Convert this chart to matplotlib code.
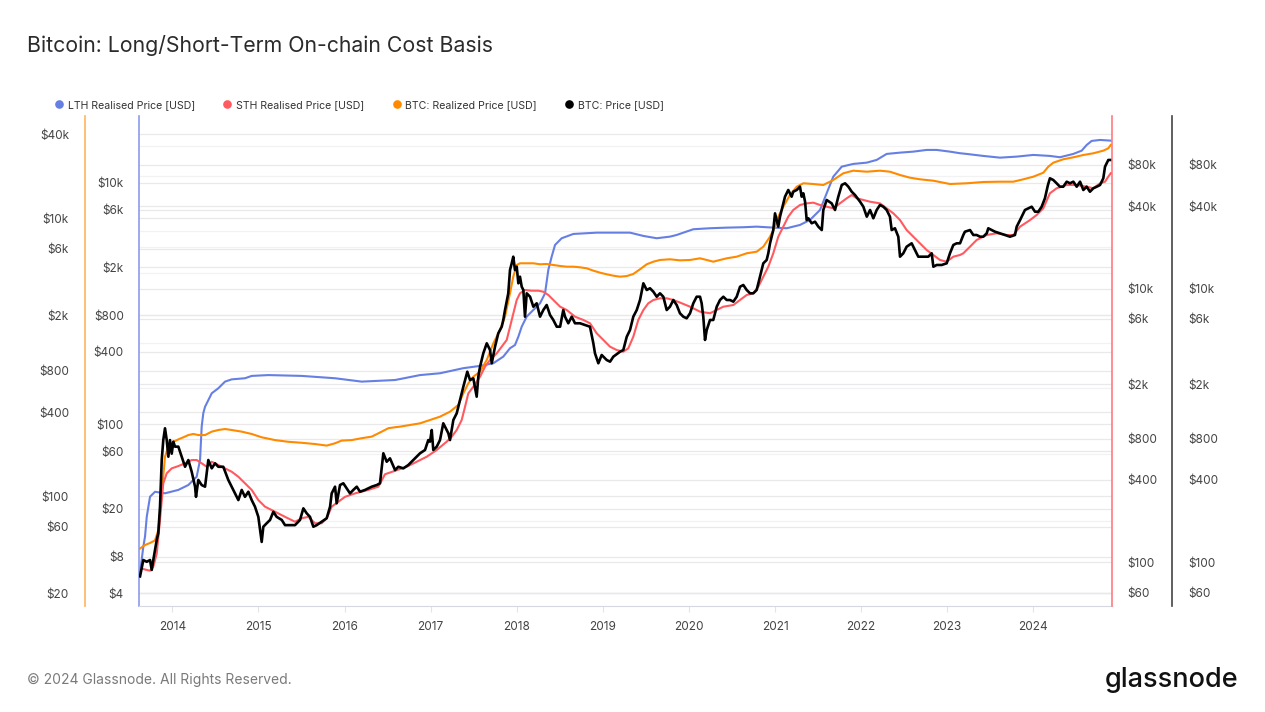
import matplotlib
matplotlib.use("Agg")
import matplotlib.pyplot as plt
from matplotlib.lines import Line2D
from matplotlib.ticker import FixedLocator, FixedFormatter, NullLocator

plt.rcParams['font.family'] = ['Inter', 'DejaVu Sans']

# time axis is decimal years
x_start, x_end = 2013.613, 2024.914
years = list(range(2014, 2025))

# LTH realised price [USD] (inner left axis)
lth_t = [2013.625, 2013.663, 2013.683, 2013.703, 2013.741, 2013.799, 2013.915, 2014.070,
         2014.186, 2014.283, 2014.322, 2014.341, 2014.360, 2014.380, 2014.458, 2014.534,
         2014.612, 2014.690, 2014.844, 2014.922, 2015.115, 2015.503, 2015.890, 2016.199,
         2016.587, 2016.877, 2017.109, 2017.380, 2017.574, 2017.729, 2017.844, 2017.922,
         2017.980, 2018.019, 2018.058, 2018.116, 2018.193, 2018.271, 2018.329, 2018.367,
         2018.406, 2018.445, 2018.522, 2018.658, 2018.930, 2019.200, 2019.316, 2019.471,
         2019.626, 2019.780, 2019.858, 2020.051, 2020.245, 2020.439, 2020.632, 2020.787,
         2020.980, 2021.136, 2021.290, 2021.406, 2021.523, 2021.600, 2021.677, 2021.775,
         2021.909, 2022.066, 2022.181, 2022.297, 2022.452, 2022.606, 2022.761, 2022.878,
         2023.032, 2023.149, 2023.226, 2023.419, 2023.613, 2023.807, 2024.000, 2024.193,
         2024.309, 2024.465, 2024.562, 2024.620, 2024.678, 2024.775, 2024.899]
lth_v = [5.9, 9.7, 11.8, 17.2, 25.2, 27.7, 26.9, 28.7,
         31.5, 36.9, 50.8, 95.8, 124, 140, 181, 199,
         226, 236, 241, 252, 256, 252, 241, 226,
         233, 256, 265, 292, 305, 321, 364, 427,
         454, 532, 644, 780, 886, 1006, 1217, 1899,
         2446, 3057, 3474, 3770, 3865, 3865, 3865, 3631,
         3474, 3582, 3699, 4124, 4204, 4253, 4285, 4334,
         4253, 4204, 4476, 4923, 5956, 8191, 11240, 13600,
         14320, 14680, 15460, 17330, 17760, 18100, 18700, 18700,
         18100, 17560, 17330, 16680, 16140, 16460, 17000, 16680,
         16270, 17330, 18450, 20560, 22200, 22620, 22320]

# STH realised price [USD] (inner right axis)
sth_t = [2013.645, 2013.703, 2013.741, 2013.779, 2013.819, 2013.857, 2013.895, 2013.935,
         2013.993, 2014.070, 2014.148, 2014.225, 2014.283, 2014.341, 2014.400, 2014.458,
         2014.534, 2014.612, 2014.690, 2014.767, 2014.844, 2014.922, 2014.999, 2015.077,
         2015.193, 2015.309, 2015.425, 2015.503, 2015.580, 2015.657, 2015.735, 2015.793,
         2015.851, 2015.928, 2016.006, 2016.122, 2016.276, 2016.393, 2016.470, 2016.610,
         2016.722, 2016.838, 2016.955, 2017.071, 2017.187, 2017.245, 2017.303, 2017.361,
         2017.400, 2017.438, 2017.496, 2017.574, 2017.632, 2017.690, 2017.768, 2017.826,
         2017.884, 2017.942, 2018.000, 2018.038, 2018.096, 2018.174, 2018.251, 2018.309,
         2018.367, 2018.425, 2018.504, 2018.581, 2018.677, 2018.774, 2018.851, 2018.929,
         2019.006, 2019.084, 2019.161, 2019.238, 2019.296, 2019.354, 2019.412, 2019.471,
         2019.528, 2019.587, 2019.664, 2019.742, 2019.819, 2019.896, 2020.013, 2020.129,
         2020.245, 2020.323, 2020.400, 2020.516, 2020.594, 2020.671, 2020.748, 2020.806,
         2020.864, 2020.922, 2020.980, 2021.038, 2021.096, 2021.154, 2021.212, 2021.290,
         2021.368, 2021.445, 2021.523, 2021.600, 2021.677, 2021.755, 2021.833, 2021.891,
         2021.949, 2022.026, 2022.104, 2022.219, 2022.297, 2022.374, 2022.452, 2022.529,
         2022.606, 2022.684, 2022.761, 2022.839, 2022.916, 2022.994, 2023.071, 2023.149,
         2023.187, 2023.265, 2023.342, 2023.459, 2023.575, 2023.691, 2023.768, 2023.846,
         2023.962, 2024.039, 2024.116, 2024.193, 2024.271, 2024.388, 2024.504, 2024.620,
         2024.697, 2024.775, 2024.833, 2024.871, 2024.899]
sth_v = [90, 88, 87, 93, 116, 204, 378, 447,
         486, 505, 529, 559, 559, 529, 499, 543,
         514, 486, 459, 422, 378, 338, 285, 255,
         234, 215, 198, 210, 215, 193, 193, 210,
         255, 277, 301, 319, 338, 357, 440, 472,
         499, 543, 591, 662, 761, 827, 926, 1096,
         1370, 1716, 1918, 2269, 2686, 3006, 3364, 3759,
         4211, 5892, 8244, 9228, 9756, 9642, 9642, 9480,
         8970, 8244, 7368, 6966, 6228, 5892, 5574, 4710,
         4211, 3759, 3556, 3456, 3659, 4446, 5892, 6966,
         7800, 8244, 8484, 8484, 8244, 7900, 7368, 6774,
         6594, 6966, 7368, 7578, 8244, 8970, 9228, 10310,
         12200, 14430, 18080, 23910, 28300, 33470, 37460, 40740,
         41880, 42380, 40740, 39590, 38530, 41880, 45620, 48210,
         45620, 44330, 43070, 41880, 38530, 35430, 31620, 26740,
         23910, 21390, 19120, 17580, 16160, 15700, 17080, 17580,
         18080, 20210, 22620, 24600, 25320, 24600, 24600, 28300,
         31620, 34440, 38530, 49610, 53970, 57040, 57040, 55430,
         53970, 58680, 60300, 65600, 69450]

# BTC realized price [USD] (outer left axis)
rp_t = [2013.625, 2013.683, 2013.741, 2013.799, 2013.837, 2013.877, 2013.915, 2013.954,
        2014.012, 2014.070, 2014.128, 2014.186, 2014.244, 2014.302, 2014.380, 2014.458,
        2014.534, 2014.612, 2014.690, 2014.806, 2014.922, 2015.038, 2015.193, 2015.347,
        2015.503, 2015.657, 2015.793, 2015.890, 2015.967, 2016.083, 2016.199, 2016.316,
        2016.432, 2016.509, 2016.587, 2016.645, 2016.761, 2016.877, 2016.993, 2017.109,
        2017.225, 2017.322, 2017.380, 2017.438, 2017.496, 2017.574, 2017.652, 2017.729,
        2017.806, 2017.864, 2017.922, 2017.960, 2018.000, 2018.038, 2018.116, 2018.193,
        2018.271, 2018.348, 2018.425, 2018.504, 2018.581, 2018.658, 2018.735, 2018.813,
        2018.890, 2018.967, 2019.045, 2019.122, 2019.200, 2019.278, 2019.354, 2019.432,
        2019.510, 2019.587, 2019.664, 2019.780, 2019.896, 2020.013, 2020.129, 2020.207,
        2020.283, 2020.361, 2020.439, 2020.555, 2020.671, 2020.787, 2020.864, 2020.942,
        2021.000, 2021.038, 2021.096, 2021.174, 2021.252, 2021.329, 2021.445, 2021.561,
        2021.677, 2021.793, 2021.909, 2022.066, 2022.219, 2022.335, 2022.452, 2022.568,
        2022.684, 2022.839, 2022.955, 2023.032, 2023.226, 2023.419, 2023.613, 2023.768,
        2023.884, 2024.000, 2024.116, 2024.174, 2024.232, 2024.348, 2024.465, 2024.581,
        2024.697, 2024.813, 2024.871, 2024.899]
rp_v = [42, 44.5, 46, 48, 57, 105, 192, 227,
        246, 256, 265, 275, 280, 275, 275, 291,
        299, 304, 299, 291, 280, 265, 253, 246,
        242, 237, 231, 240, 251, 253, 261, 268,
        291, 308, 313, 316, 325, 334, 353, 373,
        405, 453, 549, 648, 723, 786, 954, 1258,
        1568, 1954, 2878, 3792, 4602, 4734, 4734, 4734,
        4656, 4680, 4602, 4526, 4474, 4474, 4428, 4356,
        4188, 4052, 3944, 3854, 3792, 3830, 3964, 4286,
        4656, 4860, 5000, 5058, 4970, 5000, 5140, 5000,
        4860, 5000, 5140, 5280, 5586, 5736, 6230, 7356,
        8680, 10240, 12090, 14670, 16840, 17810, 17600, 17310,
        18810, 21020, 21950, 21580, 21950, 21580, 20430, 19540,
        19030, 18590, 17990, 17600, 17810, 18200, 18290, 18290,
        19030, 19870, 21220, 23450, 25050, 26510, 27400, 28460,
        29280, 30580, 31800, 33600]

# BTC price [USD] (outer right axis)
px_t = [2013.625, 2013.663, 2013.703, 2013.741, 2013.761, 2013.779, 2013.799, 2013.819,
        2013.837, 2013.857, 2013.877, 2013.895, 2013.915, 2013.935, 2013.954, 2013.973,
        2013.993, 2014.012, 2014.031, 2014.070, 2014.109, 2014.148, 2014.186, 2014.225,
        2014.264, 2014.275, 2014.302, 2014.341, 2014.380, 2014.418, 2014.458, 2014.496,
        2014.534, 2014.592, 2014.650, 2014.728, 2014.767, 2014.806, 2014.844, 2014.883,
        2014.922, 2014.960, 2014.999, 2015.038, 2015.057, 2015.096, 2015.135, 2015.173,
        2015.212, 2015.271, 2015.309, 2015.425, 2015.483, 2015.522, 2015.561, 2015.599,
        2015.638, 2015.677, 2015.735, 2015.793, 2015.832, 2015.851, 2015.890, 2015.909,
        2015.948, 2015.986, 2016.026, 2016.064, 2016.102, 2016.142, 2016.180, 2016.238,
        2016.316, 2016.374, 2016.412, 2016.451, 2016.490, 2016.528, 2016.587, 2016.625,
        2016.683, 2016.741, 2016.799, 2016.838, 2016.877, 2016.935, 2016.973, 2016.993,
        2017.013, 2017.031, 2017.071, 2017.109, 2017.147, 2017.187, 2017.206, 2017.225,
        2017.264, 2017.303, 2017.341, 2017.380, 2017.426, 2017.458, 2017.496, 2017.535,
        2017.554, 2017.574, 2017.612, 2017.652, 2017.690, 2017.710, 2017.748, 2017.786,
        2017.826, 2017.844, 2017.864, 2017.902, 2017.922, 2017.942, 2017.960, 2017.980,
        2018.000, 2018.019, 2018.038, 2018.058, 2018.077, 2018.096, 2018.116, 2018.155,
        2018.193, 2018.232, 2018.271, 2018.309, 2018.348, 2018.387, 2018.425, 2018.465,
        2018.504, 2018.541, 2018.561, 2018.599, 2018.639, 2018.677, 2018.735, 2018.793,
        2018.851, 2018.890, 2018.909, 2018.948, 2018.987, 2019.045, 2019.084, 2019.122,
        2019.200, 2019.238, 2019.278, 2019.316, 2019.354, 2019.394, 2019.432, 2019.471,
        2019.510, 2019.548, 2019.587, 2019.626, 2019.664, 2019.703, 2019.742, 2019.780,
        2019.819, 2019.858, 2019.896, 2019.935, 2019.974, 2020.013, 2020.051, 2020.090,
        2020.129, 2020.148, 2020.167, 2020.187, 2020.207, 2020.245, 2020.283, 2020.323,
        2020.361, 2020.400, 2020.439, 2020.477, 2020.516, 2020.555, 2020.594, 2020.632,
        2020.671, 2020.710, 2020.748, 2020.787, 2020.826, 2020.864, 2020.903, 2020.922,
        2020.942, 2020.980, 2021.000, 2021.019, 2021.038, 2021.058, 2021.096, 2021.116,
        2021.154, 2021.193, 2021.212, 2021.252, 2021.290, 2021.310, 2021.329, 2021.349,
        2021.368, 2021.387, 2021.426, 2021.465, 2021.503, 2021.543, 2021.561, 2021.600,
        2021.658, 2021.697, 2021.735, 2021.775, 2021.814, 2021.852, 2021.891, 2021.929,
        2021.988, 2022.026, 2022.066, 2022.104, 2022.142, 2022.181, 2022.219, 2022.258,
        2022.297, 2022.335, 2022.355, 2022.393, 2022.432, 2022.452, 2022.490, 2022.529,
        2022.587, 2022.626, 2022.664, 2022.722, 2022.780, 2022.820, 2022.839, 2022.878,
        2022.936, 2022.994, 2023.032, 2023.071, 2023.110, 2023.149, 2023.187, 2023.206,
        2023.265, 2023.303, 2023.342, 2023.381, 2023.419, 2023.459, 2023.477, 2023.517,
        2023.555, 2023.613, 2023.671, 2023.729, 2023.787, 2023.807, 2023.846, 2023.903,
        2023.942, 2023.981, 2024.020, 2024.058, 2024.097, 2024.135, 2024.170, 2024.193,
        2024.232, 2024.271, 2024.309, 2024.348, 2024.388, 2024.426, 2024.465, 2024.504,
        2024.543, 2024.581, 2024.620, 2024.658, 2024.697, 2024.737, 2024.775, 2024.794,
        2024.813, 2024.833, 2024.871, 2024.890]
px_v = [79, 104, 101, 104, 88, 104, 123, 146,
        163, 255, 559, 782, 953, 782, 591, 782,
        622, 761, 700, 700, 591, 499, 559, 459,
        357, 301, 400, 367, 357, 559, 486, 529,
        499, 499, 400, 319, 285, 338, 301, 328,
        285, 255, 215, 141, 182, 193, 204, 234,
        215, 204, 187, 187, 204, 248, 228, 215,
        182, 187, 198, 210, 255, 319, 357, 270,
        367, 378, 347, 319, 338, 357, 328, 338,
        357, 367, 378, 626, 543, 575, 472, 499,
        486, 514, 559, 591, 626, 662, 782, 761,
        926, 662, 700, 782, 1037, 926, 876, 782,
        1096, 1226, 1534, 1918, 2469, 2147, 2208, 1622,
        2269, 2686, 3364, 3980, 3556, 2844, 3759, 4710,
        5262, 5892, 6966, 9228, 13650, 15280, 17080, 13650,
        14430, 10920, 12200, 10310, 9756, 6228, 9228, 8712,
        7368, 7800, 6228, 6966, 7578, 6408, 5892, 5262,
        5262, 6966, 6228, 5574, 6228, 5574, 5574, 5418,
        5262, 3980, 3364, 2844, 3270, 3006, 2922, 3178,
        3456, 3556, 4446, 4980, 6228, 6966, 8244, 10920,
        9756, 10040, 9480, 8712, 9228, 8712, 6966, 7368,
        8244, 7578, 6594, 6228, 6060, 6594, 7800, 8712,
        8712, 7800, 6228, 4211, 4980, 5892, 5892, 7368,
        8244, 8712, 8244, 8244, 8016, 8712, 10310, 10610,
        9756, 9228, 9228, 9756, 12200, 15280, 16160, 18080,
        21390, 26740, 35400, 31620, 28300, 33470, 41880, 46850,
        52440, 46850, 50940, 52440, 55430, 46850, 49610, 43070,
        31620, 32580, 29960, 30770, 28300, 26740, 37460, 44330,
        41880, 37460, 46850, 57040, 58680, 55430, 50940, 48210,
        43070, 39590, 33470, 37460, 32580, 37460, 40740, 39590,
        37460, 33470, 26740, 27540, 23910, 17080, 18080, 20210,
        21390, 19120, 17080, 17080, 17080, 18080, 14430, 14860,
        14860, 15280, 18080, 20800, 21390, 21390, 24600, 26010,
        26740, 24600, 24600, 23910, 23910, 25320, 27540, 26740,
        26010, 25320, 24600, 23910, 24600, 28300, 31620, 37460,
        38530, 39590, 36400, 36400, 39590, 45620, 57040, 63840,
        62040, 58680, 55430, 55430, 60300, 58680, 60300, 55430,
        60300, 52440, 55430, 50940, 53970, 55430, 57040, 60300,
        63840, 77640, 86880, 86880]

# labelled ticks of each value axis
rp_ticks = [20, 60, 100, 400, 800, 2000, 6000, 10000, 40000]
lth_ticks = [4, 8, 20, 60, 100, 400, 800, 2000, 6000, 10000]
px_ticks = [60, 100, 400, 800, 2000, 6000, 10000, 40000, 80000]
# unlabelled grid steps
minor_grid = [200, 4000, 20000]

labels = ['LTH Realised Price [USD]', 'STH Realised Price [USD]',
          'BTC: Realized Price [USD]', 'BTC: Price [USD]']
c_lth, c_sth, c_rp, c_px = '#667fe3', '#ff5a5f', '#ff8a00', '#000000'


def usd(v):
    return f"${v // 1000}k" if v >= 1000 else f"${v}"


W, H = 1265, 712
fig = plt.figure(figsize=(W / 100, H / 100), dpi=100)
ax_lth = fig.add_axes([139 / W, 1 - 606 / H, 973 / W, 490 / H])
ax_rp = ax_lth.twinx()
ax_sth = ax_lth.twinx()
ax_px = ax_lth.twinx()

ax_lth.set_xlim(x_start, x_end)
ax_lth.set_yscale('log')
ax_lth.set_ylim(3.14, 35700)
ax_rp.set_yscale('log')
ax_rp.set_ylim(16.2, 54300)
ax_sth.set_yscale('log')
ax_sth.set_ylim(48.0, 182000)
ax_px.set_yscale('log')
ax_px.set_ylim(48.0, 182000)

# axis placement
ax_rp.yaxis.set_ticks_position('left')
ax_rp.yaxis.set_label_position('left')
ax_rp.spines['left'].set_position(('axes', -54 / 973))
ax_px.spines['right'].set_position(('axes', 1 + 60 / 973))

for a in (ax_lth, ax_rp, ax_sth, ax_px):
    for s in a.spines.values():
        s.set_visible(False)
    a.yaxis.set_minor_locator(NullLocator())

ax_lth.spines['left'].set_visible(True)
ax_lth.spines['left'].set_color('#8b9cea')
ax_lth.spines['bottom'].set_visible(True)
ax_lth.spines['bottom'].set_color('#d5d8e0')
ax_rp.spines['left'].set_visible(True)
ax_rp.spines['left'].set_color('#ffb45c')
ax_sth.spines['right'].set_visible(True)
ax_sth.spines['right'].set_color('#ff7b7f')
ax_px.spines['right'].set_visible(True)
ax_px.spines['right'].set_color('#444444')
for s in (ax_lth.spines['left'], ax_rp.spines['left'], ax_sth.spines['right'], ax_px.spines['right']):
    s.set_linewidth(1.2)

for a, ticks, pad in ((ax_lth, lth_ticks, 11), (ax_rp, rp_ticks, 11.5),
                      (ax_sth, px_ticks, 11), (ax_px, px_ticks, 11.5)):
    a.yaxis.set_major_locator(FixedLocator(ticks))
    a.yaxis.set_major_formatter(FixedFormatter([usd(t) for t in ticks]))
    a.tick_params(axis='y', length=0, pad=pad, labelsize=8.5, labelcolor='#444444')

ax_lth.set_xticks(years)
ax_lth.set_xticklabels([str(y) for y in years])
ax_lth.tick_params(axis='x', length=4.5, width=0.8, color='#e2e4ea', pad=6,
                   labelsize=8.5, labelcolor='#444444')

# horizontal grid lines from every value axis, drawn in the bottom axes
for a, ticks in ((ax_lth, lth_ticks), (ax_rp, rp_ticks), (ax_sth, px_ticks)):
    to_frac = a.transScale + a.transLimits
    lo, hi = a.get_ylim()
    for v in ticks + minor_grid:
        if not lo < v < hi:
            continue
        f = to_frac.transform((x_start, v))[1]
        shade = '#e9e9ec' if v in ticks else '#f2f2f4'
        ax_lth.plot([0, 1], [f, f], transform=ax_lth.transAxes, color=shade,
                    lw=0.9, zorder=0)

ax_lth.plot(lth_t, lth_v, color=c_lth, lw=1.5, zorder=3)
ax_rp.plot(rp_t, rp_v, color=c_rp, lw=1.5, zorder=3)
ax_sth.plot(sth_t, sth_v, color=c_sth, lw=1.5, zorder=3)
ax_px.plot(px_t, px_v, color=c_px, lw=1.9, zorder=3)

handles = [Line2D([], [], ls='none', marker='o', ms=5.2, color=c)
           for c in (c_lth, c_sth, c_rp, c_px)]
fig.legend(handles, labels, loc='center left', bbox_to_anchor=(46 / W, 1 - 105 / H),
           ncol=4, frameon=False, fontsize=7.6, handlelength=0.6, handletextpad=0.55,
           columnspacing=2.75, labelcolor='#333333')

fig.text(27 / W, 1 - 45 / H, 'Bitcoin: Long/Short-Term On-chain Cost Basis',
         fontsize=15.3, color='#2b2b2b', va='center', ha='left')
fig.text(27 / W, 1 - 680 / H, '\u00a9 2024 Glassnode. All Rights Reserved.',
         fontsize=10, color='#7a7a7a', va='center', ha='left')
fig.text(1238 / W, 1 - 680 / H, 'glassnode', fontsize=19.5, color='#111111',
         va='center', ha='right', fontweight='medium')

fig.savefig('out.png', dpi=100)
